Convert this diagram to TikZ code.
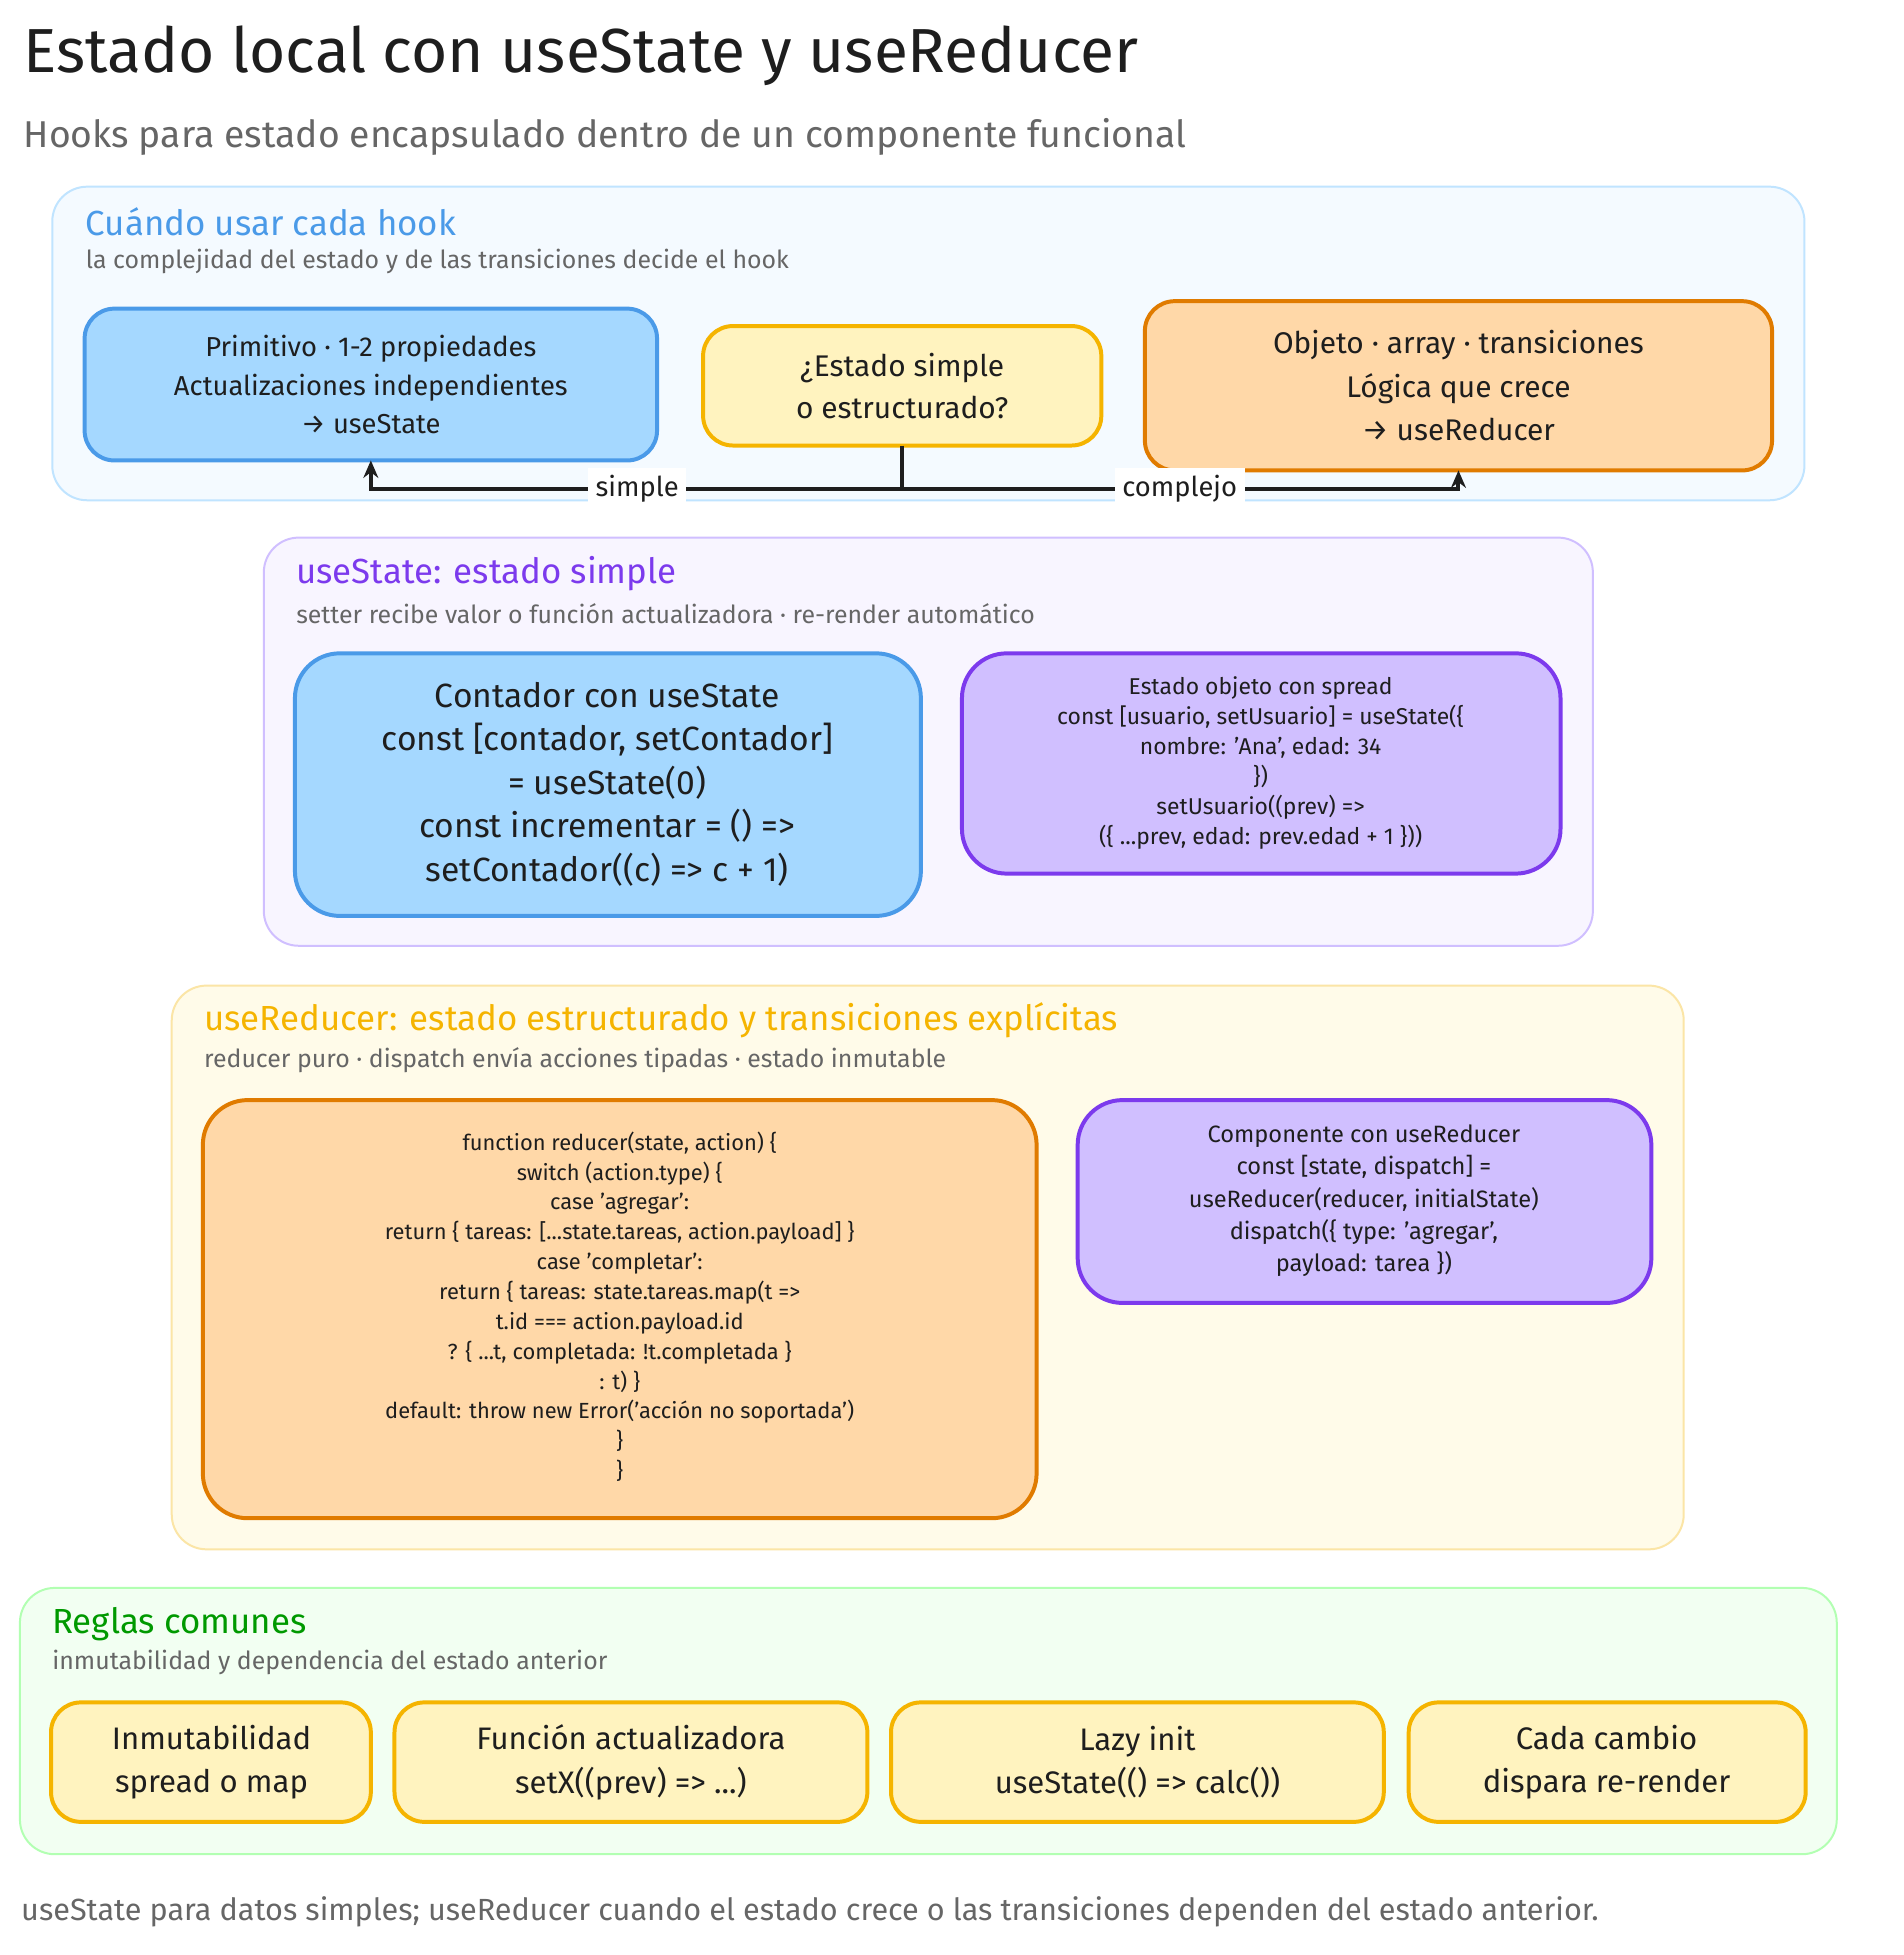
\documentclass[tikz,border=0pt]{standalone}
\usepackage{fontspec}
\setmainfont{Fira Sans}
\usetikzlibrary{arrows.meta}
\definecolor{blueS}{HTML}{4A9AE8}\definecolor{blueF}{HTML}{A5D8FF}
\definecolor{purS}{HTML}{7C3AED}\definecolor{purF}{HTML}{D0BFFF}
\definecolor{orS}{HTML}{E07B00}\definecolor{orF}{HTML}{FFD8A8}
\definecolor{yeS}{HTML}{F5B400}\definecolor{yeF}{HTML}{FFF3BF}
\definecolor{grayT}{HTML}{666666}\definecolor{inkc}{HTML}{1E1E1E}
\tikzset{
 panel/.style={draw=#1,line width=0.8pt,rounded corners=14pt},
 box/.style={rounded corners=12pt,line width=1.6pt},
 ptitle/.style={anchor=west,font=\fontsize{14}{16}\selectfont,text=#1},
 psub/.style={anchor=west,font=\fontsize{10}{12}\selectfont,text=grayT},
 txt/.style={align=center,text=inkc},
 conn/.style={draw=inkc,line width=1.6pt},
 tip/.style={-{Stealth[length=7pt,width=6pt]}},
 elabel/.style={fill=white,inner sep=3pt,font=\fontsize{11}{13}\selectfont,text=inkc},
}
\begin{document}
\begin{tikzpicture}[x=0.5pt,y=-0.5pt]
\useasboundingbox[fill=white] (0,0) rectangle (1530,1571);
\node[anchor=west,font=\fontsize{25}{28}\selectfont,text=inkc] (title) at (12,45) {Estado local con useState y useReducer};
\node[anchor=west,font=\fontsize{15}{18}\selectfont,text=grayT] (sub) at (12,110) {Hooks para estado encapsulado dentro de un componente funcional};
% panel 1
\path[panel=blueF!70,fill=blueF!12] (42,150) rectangle (1450,402);
\node[ptitle=blueS] (p1t) at (62,178) {Cuándo usar cada hook};
\node[psub] (p1s) at (62,210) {la complejidad del estado y de las transiciones decide el hook};
\path[box,draw=blueS,fill=blueF] (68,248) rectangle (528,370);
\node[txt,font=\fontsize{11}{15.5}\selectfont] (A) at (298,309) {Primitivo · 1-2 propiedades\\Actualizaciones independientes\\→ useState};
\coordinate (Ab) at (298,370);
\path[box,draw=yeS,fill=yeF] (565,262) rectangle (885,358);
\node[txt,font=\fontsize{12}{17}\selectfont] (Q) at (725,310) {¿Estado simple\\o estructurado?};
\coordinate (Qb) at (725,358);
\path[box,draw=orS,fill=orF] (920,242) rectangle (1424,378);
\node[txt,font=\fontsize{12}{17.5}\selectfont] (C) at (1172,310) {Objeto · array · transiciones\\Lógica que crece\\→ useReducer};
\coordinate (Cb) at (1172,378);
\coordinate (J) at (725,393);
\coordinate (JL) at (298,393);
\coordinate (JR) at (1172,393);
\draw[conn] (Qb) -- (J);
\draw[conn,tip] (J) -- (JL) -- (Ab);
\draw[conn,tip] (J) -- (JR) -- (Cb);
\node[elabel] (ls) at (512,393) {simple};
\node[elabel] (lc) at (948,393) {complejo};
% panel 2
\path[panel=purF,fill=purF!15] (212,432) rectangle (1280,760);
\node[ptitle=purS] (p2t) at (231,461) {useState: estado simple};
\node[psub] (p2s) at (231,493) {setter recibe valor o función actualizadora · re-render automático};
\path[box,draw=blueS,fill=blueF,rounded corners=18pt] (237,525) rectangle (740,736);
\node[txt,font=\fontsize{13.5}{17.5}\selectfont] (B1) at (488,630) {Contador con useState\\const [contador, setContador]\\= useState(0)\\const incrementar = () =>\\setContador((c) => c + 1)};
\path[box,draw=purS,fill=purF,rounded corners=18pt] (773,525) rectangle (1254,702);
\node[txt,font=\fontsize{9.2}{12}\selectfont] (B2) at (1013,613) {Estado objeto con spread\\const [usuario, setUsuario] = useState(\{\\nombre: 'Ana', edad: 34\\\})\\setUsuario((prev) =>\\(\{ ...prev, edad: prev.edad + 1 \}))};
% panel 3
\path[panel=yeS!35,fill=yeF!35] (138,792) rectangle (1353,1245);
\node[ptitle=yeS] (p3t) at (157,820) {useReducer: estado estructurado y transiciones explícitas};
\node[psub] (p3s) at (157,852) {reducer puro · dispatch envía acciones tipadas · estado inmutable};
\path[box,draw=orS,fill=orF,rounded corners=18pt] (163,884) rectangle (833,1220);
\node[txt,font=\fontsize{8.8}{12}\selectfont] (R) at (498,1050) {function reducer(state, action) \{\\switch (action.type) \{\\case 'agregar':\\return \{ tareas: [...state.tareas, action.payload] \}\\case 'completar':\\return \{ tareas: state.tareas.map(t =>\\t.id === action.payload.id\\? \{ ...t, completada: !t.completada \}\\: t) \}\\default: throw new Error('acción no soportada')\\\}\\\}};
\path[box,draw=purS,fill=purF,rounded corners=18pt] (866,884) rectangle (1327,1047);
\node[txt,font=\fontsize{9.5}{13}\selectfont] (R2) at (1096,965) {Componente con useReducer\\const [state, dispatch] =\\useReducer(reducer, initialState)\\dispatch(\{ type: 'agregar',\\payload: tarea \})};
% panel 4
\path[panel=green!30,fill=green!5] (16,1276) rectangle (1476,1490);
\node[ptitle={green!60!black}] (p4t) at (35,1305) {Reglas comunes};
\node[psub] (p4s) at (35,1336) {inmutabilidad y dependencia del estado anterior};
\path[box,draw=yeS,fill=yeF] (41,1368) rectangle (298,1464);
\node[txt,font=\fontsize{12.5}{17.5}\selectfont] (r1) at (170,1416) {Inmutabilidad\\spread o map};
\path[box,draw=yeS,fill=yeF] (317,1368) rectangle (697,1464);
\node[txt,font=\fontsize{12.5}{17.5}\selectfont] (r2) at (507,1416) {Función actualizadora\\setX((prev) => ...)};
\path[box,draw=yeS,fill=yeF] (716,1368) rectangle (1112,1464);
\node[txt,font=\fontsize{12.5}{17.5}\selectfont] (r3) at (914,1416) {Lazy init\\useState(() => calc())};
\path[box,draw=yeS,fill=yeF] (1132,1368) rectangle (1451,1464);
\node[txt,font=\fontsize{12.5}{17.5}\selectfont] (r4) at (1291,1416) {Cada cambio\\dispara re-render};
\node[anchor=west,font=\fontsize{12.3}{14}\selectfont,text=grayT] (foot) at (10,1536) {useState para datos simples; useReducer cuando el estado crece o las transiciones dependen del estado anterior.};
\end{tikzpicture}
\end{document}
